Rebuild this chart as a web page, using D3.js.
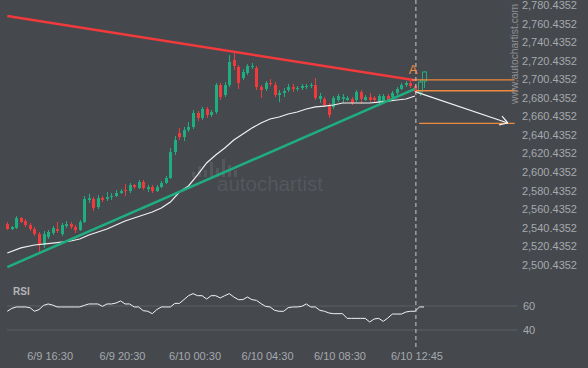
<!DOCTYPE html>
<html><head><meta charset="utf-8">
<script src="https://cdn.jsdelivr.net/npm/d3@7"></script>
<style>html,body{margin:0;padding:0;background:#45484d;} svg{display:block;font-family:"Liberation Sans",Arial,sans-serif;}</style>
</head><body><svg id="c" width="588" height="368"></svg>
<script>
// OHLC: [open, high, low, close]
const candles = [
[2544.3,2546.5,2537.8,2538.9],[2538.9,2542.2,2537.8,2541.1],[2540.0,2552.9,2538.9,2550.8],[2550.8,2551.8,2545.4,2546.5],
[2547.5,2549.7,2541.1,2543.2],[2543.2,2545.4,2536.8,2538.9],[2538.9,2541.1,2531.4,2533.5],[2533.5,2535.7,2514.1,2522.8],
[2521.7,2536.8,2518.5,2533.5],[2530.3,2537.8,2528.1,2535.7],[2534.6,2542.2,2532.5,2540.0],[2538.9,2546.5,2534.6,2536.8],
[2533.5,2545.4,2531.4,2543.2],[2542.2,2547.5,2540.0,2544.3],[2544.3,2546.5,2538.9,2541.1],[2541.1,2543.2,2534.6,2537.8],
[2537.8,2548.6,2536.8,2546.5],[2546.5,2574.5,2545.4,2571.3],[2570.2,2576.7,2566.9,2572.3],[2571.3,2573.4,2558.3,2561.6],
[2562.6,2575.6,2560.5,2572.3],[2572.3,2574.5,2568.0,2570.2],[2571.3,2578.8,2569.1,2573.4],[2573.4,2577.7,2570.2,2574.5],
[2574.5,2581.0,2573.4,2577.7],[2577.7,2582.0,2576.7,2579.9],[2581.0,2587.4,2574.5,2579.9],[2579.9,2588.5,2577.7,2586.4],
[2586.4,2587.4,2582.0,2584.2],[2583.1,2591.8,2582.0,2589.6],[2589.6,2591.8,2581.0,2583.1],[2582.0,2586.4,2578.8,2584.2],
[2584.2,2586.4,2577.7,2579.9],[2579.9,2586.4,2578.8,2584.2],[2584.2,2590.7,2583.1,2588.5],[2588.5,2596.1,2587.4,2593.9],
[2593.9,2626.3,2592.8,2621.9],[2621.9,2639.2,2618.7,2634.9],[2642.4,2647.8,2634.9,2638.1],[2638.1,2648.9,2633.8,2645.7],
[2645.7,2654.3,2643.5,2648.9],[2648.9,2667.2,2646.7,2664.0],[2664.0,2666.2,2655.4,2658.6],[2658.6,2670.5,2656.4,2668.3],
[2668.3,2670.5,2658.6,2661.8],[2661.8,2667.2,2659.7,2665.1],[2665.1,2696.3,2662.9,2694.2],[2694.2,2696.3,2678.0,2681.2],
[2683.4,2697.4,2681.2,2694.2],[2694.2,2726.5,2692.0,2719.0],[2721.1,2729.8,2710.4,2714.7],[2713.6,2715.7,2689.9,2696.3],
[2701.7,2711.4,2699.6,2708.2],[2707.1,2716.8,2705.0,2714.7],[2713.6,2717.9,2711.4,2714.7],[2712.5,2714.7,2688.8,2692.0],
[2692.0,2694.2,2680.2,2688.8],[2689.9,2698.5,2687.7,2696.3],[2696.3,2700.6,2693.1,2695.3],[2694.2,2697.4,2681.2,2683.4],
[2683.4,2688.8,2675.8,2685.6],[2685.6,2690.9,2681.2,2687.7],[2688.8,2695.3,2686.6,2692.0],[2692.0,2695.3,2686.6,2689.9],
[2689.9,2693.1,2687.7,2690.9],[2690.9,2695.3,2688.8,2693.1],[2692.0,2695.3,2689.9,2693.1],[2693.1,2696.3,2690.9,2694.2],
[2694.2,2701.7,2678.0,2680.2],[2679.1,2685.6,2674.8,2682.3],[2679.1,2681.2,2670.5,2672.6],[2672.6,2674.8,2658.6,2661.8],
[2670.5,2682.3,2668.3,2680.2],[2678.0,2684.5,2675.8,2682.3],[2679.1,2684.5,2674.8,2681.2],[2678.0,2682.3,2676.9,2680.2],
[2679.1,2681.2,2672.6,2674.8],[2678.0,2688.8,2675.8,2686.6],[2686.6,2688.8,2673.7,2679.1],[2678.0,2683.4,2676.9,2681.2],
[2681.2,2685.6,2675.8,2678.0],[2680.2,2682.3,2675.8,2678.0],[2675.8,2684.5,2674.8,2682.3],[2675.8,2684.5,2674.8,2682.3],
[2682.3,2684.5,2675.8,2678.0],[2681.2,2687.7,2679.1,2685.6],[2685.6,2692.0,2683.4,2689.9],[2689.9,2696.3,2688.8,2694.2],
[2694.2,2698.5,2692.0,2696.3],[2696.3,2698.5,2690.9,2693.1],[2693.1,2695.3,2684.5,2686.6]
];
// candles after the pattern end (drawn hollow)
const hollowCandles = [[2686.6,2699.6,2682.3,2697.4],[2698.5,2709.3,2690.9,2708.2]];
// moving average: [candle index, price]
const maPoints = [[0,2513.1],[3,2518.5],[6,2521.7],[10,2523.8],[14,2526.0],[16,2528.1],[18,2532.5],[20,2535.7],
[22,2538.9],[24,2543.2],[26,2547.5],[28,2550.8],[30,2554.0],[32,2557.3],[34,2561.6],[36,2568.0],[38,2578.8],
[40,2585.3],[42,2597.2],[44,2610.1],[46,2618.7],[48,2626.3],[50,2634.9],[52,2641.4],[54,2647.8],[56,2653.2],
[58,2657.5],[60,2659.7],[62,2662.9],[64,2665.1],[66,2668.3],[68,2670.5],[70,2671.5],[72,2672.6],[74,2674.8],
[76,2674.8],[78,2674.8],[80,2674.8],[82,2675.8],[84,2676.9],[86,2678.0],[88,2679.1],[90,2682.3]];
const rsiValues = [55.6,58,59.2,59.2,59.2,58.6,55.6,57,60.5,61.7,60.8,59.2,59.2,59.2,59.2,59.2,59.2,60.5,61.7,61.7,
61.7,59.7,61.7,61.7,62.5,64.2,61.7,61.7,59.2,59.2,56.1,55.6,53.6,57,59.2,59.2,59.2,62.2,62.2,65.3,
68.6,70.3,68.6,68.6,65.8,68.6,68.6,66.7,68.6,70.3,67.5,65.3,65.3,67.5,65.3,64.7,62,59.7,59.2,56.4,
55.6,55.6,58.6,59.2,59.2,59.7,61.7,59.2,59.2,56.4,55.6,54.2,53.6,53.6,53.6,49.7,49.7,49.7,49.7,49.7,
46.7,49.2,49.7,47.2,50,53.3,53.3,53.3,55,55.6,55.6,59.2,59.2];
const priceTicks = [2500.4352,2520.4352,2540.4352,2560.4352,2580.4352,2600.4352,2620.4352,2640.4352,
2660.4352,2680.4352,2700.4352,2720.4352,2740.4352,2760.4352,2780.4352];
const timeTickIdx = [9,25,41,57,73,90];
const timeTickLabels = ["6/9 16:30","6/9 20:30","6/10 00:30","6/10 04:30","6/10 08:30","6/10 12:45"];
const rsiTicks = [40,60];
const resistance = [[0,2768.6],[90,2699.2]];
const support = [[0,2497.9],[90,2689.9]];
// horizontal levels: [from index, to index, price]
const levels = [[89.3,112,2699.6],[90.3,112,2688.0],[90.9,112,2652.9]];
const forecast = [[90,2687.0],[110.5,2653.2]];
const patternEndIdx = 90.2;

const GREEN = "#1fae7f", RED = "#f03a3c", ORANGE = "#f08a3e", TXT = "#a6a9ad";
const svg = d3.select("#c");
svg.append("rect").attr("width",588).attr("height",368).attr("fill","#45484d");

const x = d3.scaleLinear().domain([0,90]).range([7.3,415]);
const y = d3.scaleLinear().domain([2500.4352,2780.4352]).range([264.7,5]);
const yR = d3.scaleLinear().domain([40,60]).range([330,306]);

// watermark
const wm = svg.append("g").attr("fill","#54575c");
[[192,172],[198,166],[204,170],[210,162],[216,168],[222,159],[228,165],[234,170]].forEach(b=>{
  wm.append("rect").attr("x",b[0]).attr("y",b[1]).attr("width",3).attr("height",177-b[1]);
});
wm.append("text").attr("x",217).attr("y",191).attr("font-size",20.5).text("autochartist");

// site text
svg.append("text").attr("transform","translate(518,104) rotate(-90)").attr("font-size",10.3)
  .attr("fill","#8d9094").text("www.autochartist.com");

// y axis
const ya = svg.append("g").attr("transform","translate(577,0)")
  .call(d3.axisLeft(y).tickValues(priceTicks).tickSize(0).tickPadding(0).tickFormat(d3.format(",.4f")));
ya.select(".domain").remove();
ya.selectAll("text").attr("fill",TXT).attr("font-size",11).attr("font-family","Liberation Sans, Arial");

// x axis
const xa = svg.append("g").attr("transform","translate(1.5,349)")
  .call(d3.axisBottom(x).tickValues(timeTickIdx).tickSize(0).tickFormat((d,i)=>timeTickLabels[i]));
xa.select(".domain").remove();
xa.selectAll("text").attr("fill",TXT).attr("font-size",11).attr("font-family","Liberation Sans, Arial");

// RSI panel
svg.append("text").attr("x",13).attr("y",295).attr("font-size",10).attr("font-weight","bold").attr("fill","#b3b5b8").text("RSI");
svg.selectAll(".rg").data(rsiTicks).enter().append("line").attr("x1",7).attr("x2",517)
  .attr("y1",d=>yR(d)).attr("y2",d=>yR(d)).attr("stroke","#5c5f64").attr("stroke-width",1);
svg.selectAll(".rl").data(rsiTicks).enter().append("text").attr("x",523).attr("y",d=>yR(d)).attr("dy","0.35em")
  .attr("font-size",11).attr("fill",TXT).text(d=>d);
svg.append("path").datum(rsiValues).attr("fill","none").attr("stroke","#f2f2f2").attr("stroke-width",1)
  .attr("d",d3.line().x((d,i)=>x(i)).y(d=>yR(d)));

// candles
const cg = svg.append("g");
candles.forEach((d,i)=>{
  const up = d[3] >= d[0], col = up?GREEN:RED, cx = Math.round(x(i))+0.5;
  cg.append("line").attr("x1",cx).attr("x2",cx).attr("y1",y(d[1])).attr("y2",y(d[2])).attr("stroke",col).attr("stroke-width",1);
  const top = y(Math.max(d[0],d[3])), bot = y(Math.min(d[0],d[3]));
  cg.append("rect").attr("x",cx-1.5).attr("y",top).attr("width",3).attr("height",Math.max(1,bot-top)).attr("fill",col);
});
hollowCandles.forEach((d,k)=>{
  const i = candles.length + k, cx = Math.round(x(i))+0.5;
  const top = y(Math.max(d[0],d[3])), bot = y(Math.min(d[0],d[3]));
  cg.append("line").attr("x1",cx).attr("x2",cx).attr("y1",y(d[1])).attr("y2",top).attr("stroke",GREEN);
  cg.append("line").attr("x1",cx).attr("x2",cx).attr("y1",bot).attr("y2",y(d[2])).attr("stroke",GREEN);
  cg.append("rect").attr("x",cx-2).attr("y",top).attr("width",4).attr("height",bot-top).attr("fill","none").attr("stroke",GREEN);
});

// MA
svg.append("path").datum(maPoints).attr("fill","none").attr("stroke","#f0f0f0").attr("stroke-width",1.2)
  .attr("d",d3.line().x(d=>x(d[0])).y(d=>y(d[1])));

// trend lines
const tl = d3.line().x(d=>x(d[0])).y(d=>y(d[1]));
svg.append("path").datum(resistance).attr("d",tl).attr("stroke",RED).attr("stroke-width",2.5).attr("fill","none");
svg.append("path").datum(support).attr("d",tl).attr("stroke",GREEN).attr("stroke-width",2.5).attr("fill","none");

// levels
levels.forEach(l=>{
  svg.append("line").attr("x1",x(l[0])).attr("x2",x(l[1])).attr("y1",y(l[2])).attr("y2",y(l[2]))
    .attr("stroke",ORANGE).attr("stroke-width",1.3);
});

// forecast arrow
const fx0=x(forecast[0][0]), fy0=y(forecast[0][1]), fx1=x(forecast[1][0]), fy1=y(forecast[1][1]);
svg.append("line").attr("x1",fx0).attr("y1",fy0).attr("x2",fx1).attr("y2",fy1).attr("stroke","#f2f2f2").attr("stroke-width",1.2);
const ang = Math.atan2(fy1-fy0, fx1-fx0);
[ang+2.6, ang-2.6].forEach(a=>{
  svg.append("line").attr("x1",fx1).attr("y1",fy1).attr("x2",fx1+9*Math.cos(a)).attr("y2",fy1+9*Math.sin(a))
    .attr("stroke","#f2f2f2").attr("stroke-width",1.2);
});

// pattern end marker
svg.append("line").attr("x1",x(patternEndIdx)).attr("x2",x(patternEndIdx)).attr("y1",0).attr("y2",350)
  .attr("stroke","#c9c9c9").attr("stroke-width",1).attr("stroke-dasharray","4,3");
svg.append("text").attr("x",x(89.6)).attr("y",y(2706)).attr("text-anchor","middle").attr("font-size",13)
  .attr("fill",ORANGE).text("A");
</script></body></html>
